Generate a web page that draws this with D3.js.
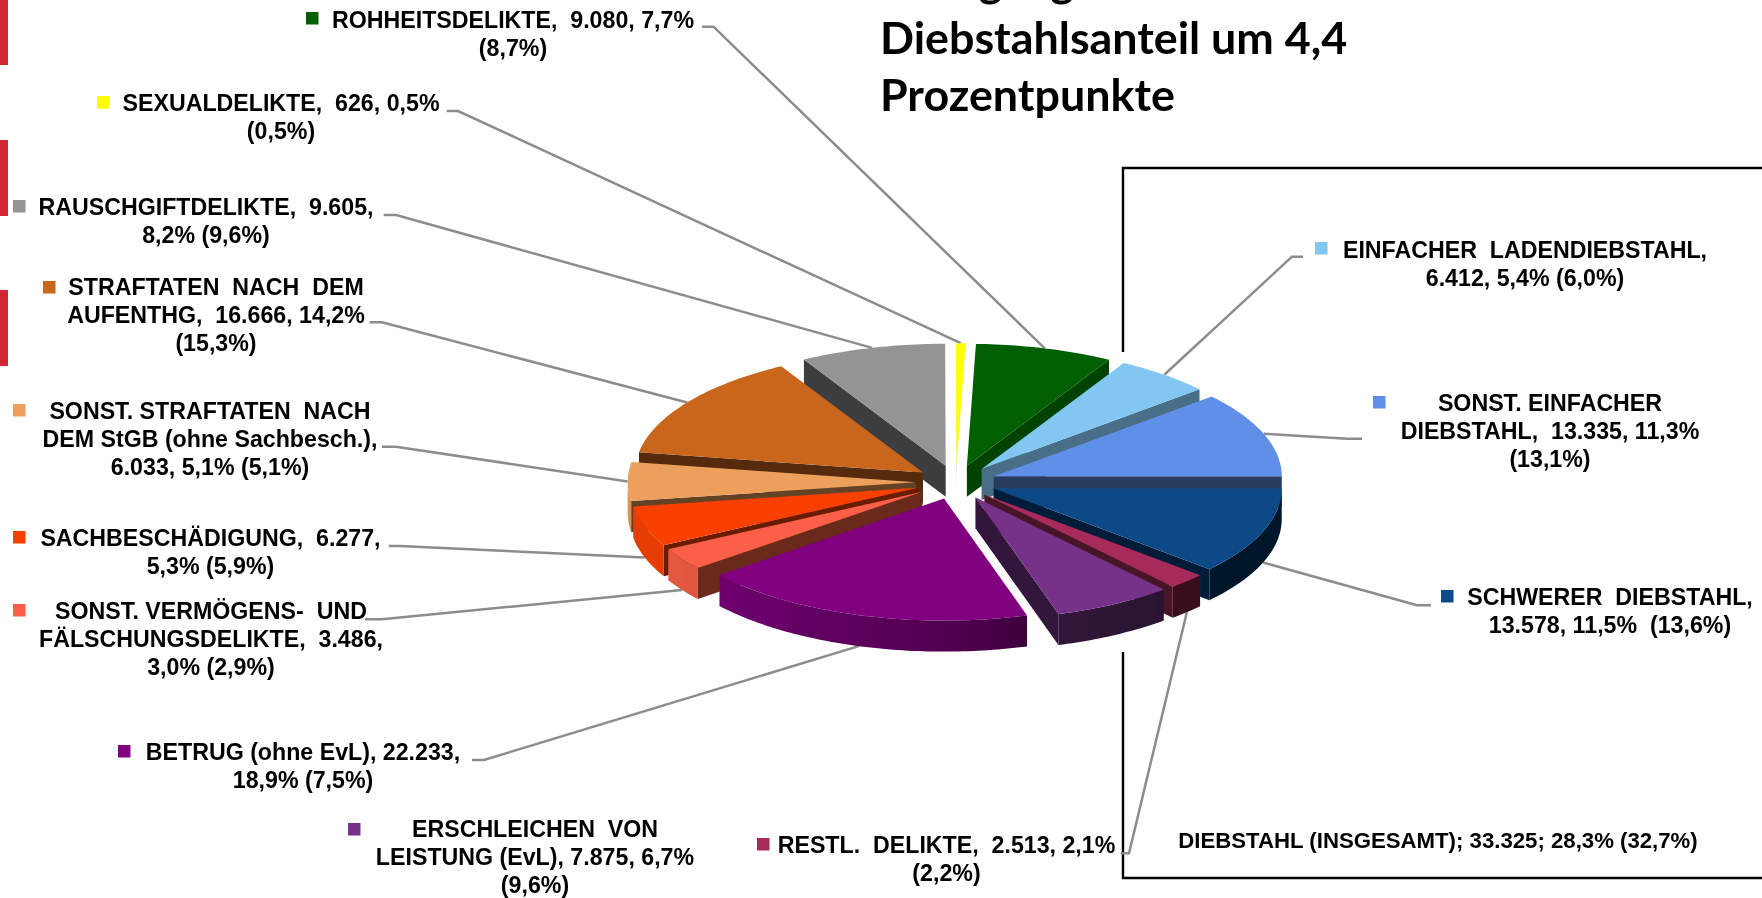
<!DOCTYPE html>
<html>
<head>
<meta charset="utf-8">
<script src="https://cdn.jsdelivr.net/npm/d3@7"></script>
<style>
	html, body { margin: 0; padding: 0; background: #fff; overflow: hidden; }
	svg { display: block; }
	text { font-family: "Liberation Sans", Arial, sans-serif; font-weight: bold; fill: #000; }
	.title { font-family: Lato, sans-serif; }
</style>
</head>
<body>
<div id="chart"></div>
<script>
// clockwise from the top, same order as the source chart
const categories = ['ROHHEITSDELIKTE', 'EINFACHER LADENDIEBSTAHL', 'SONST. EINFACHER DIEBSTAHL', 'SCHWERER DIEBSTAHL',
	'RESTL. DELIKTE', 'ERSCHLEICHEN VON LEISTUNG (EvL)', 'BETRUG (ohne EvL)', 'SONST. VERMÖGENS- UND FÄLSCHUNGSDELIKTE',
	'SACHBESCHÄDIGUNG', 'SONST. STRAFTATEN NACH DEM StGB (ohne Sachbesch.)', 'STRAFTATEN NACH DEM AUFENTHG',
	'RAUSCHGIFTDELIKTE', 'SEXUALDELIKTE'];
const values = [9080, 6412, 13335, 13578, 2513, 7875, 22233, 3486, 6277, 6033, 16666, 9605, 626];
const colors = ['#005f00', '#82c6f2', '#5f8fe6', '#0e4a87', '#a82b5a', '#763289', '#800080', '#fa6147',
	'#fa4100', '#eda05c', '#ca651b', '#949494', '#ffff00'];
const labelLines = [
	['ROHHEITSDELIKTE,  9.080, 7,7%', '(8,7%)'],
	['EINFACHER  LADENDIEBSTAHL,', '6.412, 5,4% (6,0%)'],
	['SONST. EINFACHER', 'DIEBSTAHL,  13.335, 11,3%', '(13,1%)'],
	['SCHWERER  DIEBSTAHL,', '13.578, 11,5%  (13,6%)'],
	['RESTL.  DELIKTE,  2.513, 2,1%', '(2,2%)'],
	['ERSCHLEICHEN  VON', 'LEISTUNG (EvL), 7.875, 6,7%', '(9,6%)'],
	['BETRUG (ohne EvL), 22.233,', '18,9% (7,5%)'],
	['SONST. VERMÖGENS-  UND', 'FÄLSCHUNGSDELIKTE,  3.486,', '3,0% (2,9%)'],
	['SACHBESCHÄDIGUNG,  6.277,', '5,3% (5,9%)'],
	['SONST. STRAFTATEN  NACH', 'DEM StGB (ohne Sachbesch.),', '6.033, 5,1% (5,1%)'],
	['STRAFTATEN  NACH  DEM', 'AUFENTHG,  16.666, 14,2%', '(15,3%)'],
	['RAUSCHGIFTDELIKTE,  9.605,', '8,2% (9,6%)'],
	['SEXUALDELIKTE,  626, 0,5%', '(0,5%)']
];
const totalLabel = 'DIEBSTAHL (INSGESAMT); 33.325; 28,3% (32,7%)';
const titleLines = ['Rückgang', 'Diebstahlsanteil um 4,4', 'Prozentpunkte'];

(function(){

	const svgWidth = 1762, svgHeight = 898;
	const cx = 956, cy = 482.3, rx = 288, ry = 122, depth = 31;
	const explode = 0.14;
	const rad = Math.PI / 180;

	// label placement: centre x, first line y, legend square x/y, elbow of the leader
	const labelPos = [
		{x: 513, y: 19.5, sx: 306, sy: 12, elbow: [[702, 26.7], [713.5, 26.7]]},
		{x: 1525, y: 249.5, sx: 1315, sy: 242, elbow: [[1303, 256.7], [1292, 256.7]]},
		{x: 1550, y: 402.5, sx: 1373, sy: 396, elbow: [[1362, 438.7], [1347, 438.7]]},
		{x: 1610, y: 597, sx: 1441, sy: 590, elbow: [[1431, 605.3], [1417, 605.3]]},
		{x: 946.5, y: 845, sx: 757, sy: 838, elbow: [[1120.7, 853.3], [1129, 853.3]]},
		{x: 535, y: 829, sx: 348, sy: 823, elbow: null},
		{x: 303, y: 752, sx: 118, sy: 745, elbow: [[472, 760], [484, 760]]},
		{x: 211, y: 611, sx: 13, sy: 604, elbow: [[365, 619.3], [382, 619.3]]},
		{x: 210.5, y: 538, sx: 13, sy: 531, elbow: [[388.8, 546], [400, 546]]},
		{x: 210, y: 410.5, sx: 13, sy: 404, elbow: [[382, 446.7], [396, 446.7]]},
		{x: 216, y: 286.5, sx: 43, sy: 281, elbow: [[369.7, 322.3], [382, 322.3]]},
		{x: 206, y: 206.5, sx: 13, sy: 200, elbow: [[383.7, 215], [396, 215]]},
		{x: 281, y: 102.5, sx: 97, sy: 96, elbow: [[446.6, 111], [458, 111]]}
	];

	const root = d3.select('#chart').append('svg').attr('width', svgWidth).attr('height', svgHeight);
	const defs = root.append('defs');

	// the source is an upscaled screenshot, a touch of blur gets closer to it
	defs.append('filter').attr('id', 'soft').attr('x', 0).attr('y', 0).attr('width', 1).attr('height', 1)
		.attr('filterUnits', 'objectBoundingBox')
		.append('feGaussianBlur').attr('stdDeviation', 0.5);
	const svg = root.append('g').attr('filter', 'url(#soft)');
	svg.append('rect').attr('width', svgWidth).attr('height', svgHeight).attr('fill', '#fff');

	// d3.pie gives the angles, starting a little right of 12 o'clock
	const pie = d3.pie().value(d => d).sort(null).startAngle(1.8 * rad).endAngle((360 + 1.8) * rad);
	const arcs = pie(values).map((a, i) => {
		let mid = (a.startAngle + a.endAngle) / 2;
		return {i: i, start: a.startAngle, end: a.endAngle, mid: mid,
			ax: cx + explode * rx * Math.sin(mid),
			ay: cy - explode * ry * Math.cos(mid)};
	});

	const rimPoint = (s, a, dy) => [s.ax + rx * Math.sin(a), s.ay - ry * Math.cos(a) + (dy || 0)];

	function arcPoints(s, from, to, dy){
		let n = Math.max(2, Math.ceil(Math.abs(to - from) / rad));
		return d3.range(n + 1).map(k => rimPoint(s, from + (to - from) * k / n, dy));
	}

	// gets darker from left to right along the outer wall
	const shadeScale = d3.scaleLinear().domain([cx - rx, cx, cx + 100, cx + rx]).range([0.92, 0.62, 0.42, 0.3]);
	const shade = (c, f) => {
		let o = d3.rgb(c);
		return d3.rgb(o.r * f, o.g * f, o.b * f).formatHex();
	};

	colors.forEach(function(c, i){
		let g = defs.append('linearGradient').attr('id', 'rim' + i).attr('gradientUnits', 'userSpaceOnUse')
			.attr('x1', cx - rx * 1.2).attr('x2', cx + rx * 1.2).attr('y1', 0).attr('y2', 0);
		shadeScale.domain().forEach(function(x){
			g.append('stop').attr('offset', (x - (cx - rx * 1.2)) / (rx * 2.4)).attr('stop-color', shade(c, shadeScale(x)));
		});
	});

	const line = d3.line();
	const wallShade = a => a < 60 * rad ? 0.7 - (a / rad - 30) * 0.0075 : 0.42;

	// side bars at the left edge of the slide
	[[0, 65], [140, 216], [290, 366]].forEach(function(b){
		svg.append('rect').attr('x', 0).attr('y', b[0]).attr('width', 8).attr('height', b[1] - b[0]).attr('fill', '#d32836');
	});

	// title, top line runs off the slide
	svg.selectAll('.title').data(titleLines).join('text').attr('class', 'title')
		.attr('x', 880).attr('y', (d, i) => -3 + i * 57).attr('font-size', 44.8).text(d => d);

	// box round the theft slices
	svg.append('path').attr('fill', 'none').attr('stroke', '#000').attr('stroke-width', 2.4)
		.attr('d', `M1123,352V168H${svgWidth}M1123,652V878H${svgWidth}`);

	// leaders end on the outer edge at the middle of the slice
	arcs.forEach(function(s){
		let elbow = labelPos[s.i].elbow;
		if (!elbow) return;
		let front = s.mid > 90 * rad && s.mid < 270 * rad;
		svg.append('path').attr('fill', 'none').attr('stroke', '#8c8c8c').attr('stroke-width', 2.5)
			.attr('d', line(elbow.concat([rimPoint(s, s.mid, front ? depth : 0)])));
	});

	// back slices first
	const order = arcs.slice().sort((a, b) => Math.abs(b.mid - Math.PI) - Math.abs(a.mid - Math.PI));
	const pieGroup = svg.append('g');

	order.forEach(function(s){
		let g = pieGroup.append('g');
		let c = colors[s.i];

		function wall(a){
			let p = rimPoint(s, a);
			g.append('path').attr('fill', shade(c, wallShade(a)))
				.attr('d', line([[s.ax, s.ay], p, [p[0], p[1] + depth], [s.ax, s.ay + depth]]) + 'Z');
		}
		// cut faces that look at the viewer
		if (s.start > Math.PI) wall(s.start);
		if (s.end < Math.PI) wall(s.end);

		// outer wall, only the front half shows
		let from = Math.max(s.start, Math.PI / 2), to = Math.min(s.end, 1.5 * Math.PI);
		if (to > from) {
			g.append('path').attr('fill', `url(#rim${s.i})`)
				.attr('d', line(arcPoints(s, from, to).concat(arcPoints(s, to, from, depth))) + 'Z');
		}

		// top
		g.append('path').attr('fill', c)
			.attr('d', line([[s.ax, s.ay]].concat(arcPoints(s, s.start, s.end))) + 'Z');
	});

	// labels with their legend squares
	labelLines.forEach(function(lines, i){
		let p = labelPos[i];
		svg.append('rect').attr('x', p.sx).attr('y', p.sy).attr('width', 12.5).attr('height', 12.5).attr('fill', colors[i]);
		let t = svg.append('text').attr('text-anchor', 'middle').attr('font-size', 23.2);
		lines.forEach(function(l, k){
			t.append('tspan').attr('x', p.x).attr('y', p.y + k * 28).attr('dy', '0.36em')
				.attr('xml:space', 'preserve').style('white-space', 'pre').text(l);
		});
	});

	svg.append('text').attr('x', 1438).attr('y', 840).attr('dy', '0.36em').attr('text-anchor', 'middle')
		.attr('font-size', 22.2).text(totalLabel);

})();
</script>
</body>
</html>
